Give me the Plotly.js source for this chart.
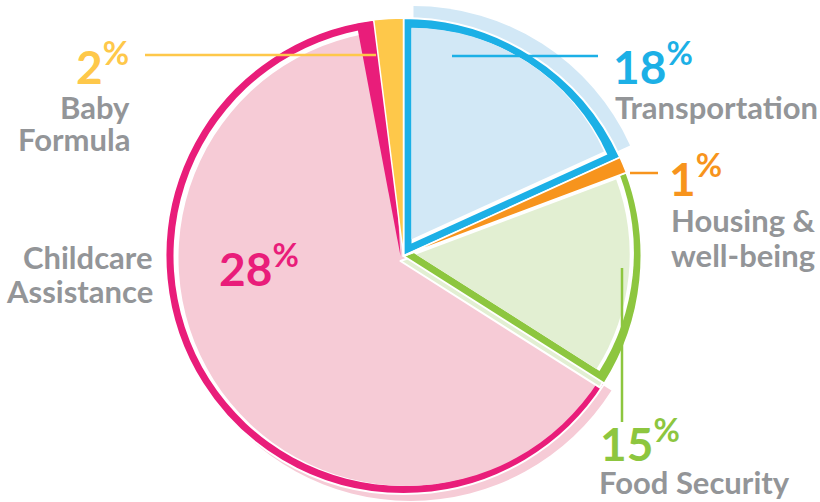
<!DOCTYPE html>
<html><head><meta charset="utf-8">
<script src="https://cdn.plot.ly/plotly-3.0.1.min.js"></script>
<style>
html,body{margin:0;padding:0;width:820px;height:502px;overflow:hidden;background:#fff;}
#chart{position:absolute;left:-40px;top:-40px;width:900px;height:582px;}
</style></head><body><div id="chart"></div>
<script>
// ---- data ----
const categories = ["Transportation", "Housing &<br>well-being", "Food Security", "Childcare<br>Assistance", "Baby<br>Formula"];
// angular share of each drawn slice (% of the full circle)
const sliceShares = [18.2, 1.1, 14.7, 64.0, 2.0];
// percentages printed on the chart
const pctValues = [18, 1, 15, 28, 2];

// ---- styles ----
const strong = ["#1cb0e6", "#f7941d", "#8dc63f", "#e91d7a", "#fec84a"];
const pale   = ["#d2e8f6", "#fde3c4", "#e2efd2", "#f6cbd6", "#fff0c8"];
const grey = "#939598";
const FONT = "Lato";

// ---- geometry (pixels of the page) ----
const PAD = 40, W = 900, H = 582;
const C = {x: 403.5, y: 256}, R = 238;

const total = sliceShares.reduce((a, b) => a + b, 0);
const startDeg = [], endDeg = [];
let acc = 0;
sliceShares.forEach(v => { startDeg.push(acc / total * 360); acc += v; endDeg.push(acc / total * 360); });

const px2x = px => (px + PAD) / W;
const py2y = py => 1 - (py + PAD) / H;
function domainFor(cx, cy, r) {
  return {x: [px2x(cx - r), px2x(cx + r)], y: [py2y(cy + r), py2y(cy - r)]};
}
// apex/radius of a wedge inset from slice i: o0 from start edge, o1 from end edge, arc inset
function inset(i, o0, o1, arcIn) {
  const a0 = startDeg[i] * Math.PI / 180, a1 = endDeg[i] * Math.PI / 180;
  const n0 = [Math.cos(a0), Math.sin(a0)];
  const n1 = [-Math.cos(a1), -Math.sin(a1)];
  const det = n0[0] * n1[1] - n0[1] * n1[0];
  const dx = (o0 * n1[1] - n0[1] * o1) / det;
  const dy = (n0[0] * o1 - o0 * n1[0]) / det;
  const mid = (a0 + a1) / 2;
  const proj = dx * Math.sin(mid) - dy * Math.cos(mid);
  return {cx: C.x + dx, cy: C.y + dy, r: R - arcIn - proj};
}
function sliceTrace(i, g, fill, lineColor, lineWidth, rot) {
  return {
    type: "pie", values: sliceShares, labels: categories, sort: false,
    direction: "clockwise", rotation: rot || 0, textinfo: "none", hoverinfo: "skip",
    showlegend: false,
    marker: {
      colors: sliceShares.map((v, k) => k === i ? fill : "rgba(0,0,0,0)"),
      line: {color: lineColor || "#ffffff", width: sliceShares.map((v, k) => k === i ? (lineWidth || 0) : 0)}
    },
    domain: domainFor(g.cx, g.cy, g.r)
  };
}
const base = {cx: C.x, cy: C.y, r: R};
const traces = [];
// childcare (3)
traces.push(sliceTrace(3, {cx: C.x + 7, cy: C.y + 7, r: R}, pale[3]));
traces.push(sliceTrace(3, base, strong[3], "#fff", 2));
traces.push(sliceTrace(3, {cx: C.x, cy: C.y, r: R - 8}, "#ffffff"));
traces.push(sliceTrace(3, {cx: C.x + 3, cy: C.y + 2, r: R - 10}, pale[3]));
// magenta edge strip beside the baby-formula slice
traces.push(sliceTrace(4, {cx: C.x - 3, cy: C.y, r: R - 2}, strong[3], "#fff", 0, -3.5));
// food (2)
traces.push(sliceTrace(2, {cx: C.x - 3, cy: C.y + 5, r: R - 2}, pale[2], "#fff", 2));
traces.push(sliceTrace(2, base, strong[2], "#fff", 2));
traces.push(sliceTrace(2, inset(2, 0, 8, 8), "#ffffff"));
traces.push(sliceTrace(2, inset(2, 3, 8, 12), pale[2]));
// transportation (0)
traces.push(sliceTrace(0, {cx: C.x + 10, cy: C.y - 12, r: R}, pale[0]));
traces.push(sliceTrace(0, base, strong[0], "#fff", 2));
traces.push(sliceTrace(0, inset(0, 8, 8, 8), "#ffffff"));
traces.push(sliceTrace(0, inset(0, 8, 12, 8), pale[0]));
// housing (1) and baby formula (4): solid
traces.push(sliceTrace(1, base, strong[1], "#fff", 1.5));
traces.push(sliceTrace(4, base, strong[4], "#fff", 1.5));

// ---- labels (style / placement) ----
const place = [
  {nx: 611, nb: 85,  lx: 613, lb: [120]},
  {nx: 667, nb: 197, lx: 669, lb: [233, 268]},
  {nx: 598, nb: 462, lx: 597, lb: [495]},
  {nx: 217, nb: 287, lx: 155, lb: [270, 304], labelAlign: "right"},
  {nx: 74,  nb: 85,  lx: 132, lb: [120, 152], labelAlign: "right"}
];
const NUM = 46, LAB = 31;
const annotations = [];
pctValues.forEach((p, i) => {
  const pl = place[i];
  annotations.push({
    xref: "paper", yref: "paper", x: px2x(pl.nx), y: py2y(pl.nb + 0.213 * NUM + 1),
    xanchor: "left", yanchor: "bottom", showarrow: false,
    text: p + "<sup>%</sup>",
    font: {family: FONT, size: NUM, color: strong[i], weight: 700}
  });
  const lines = categories[i].split("<br>");
  lines.forEach((t, j) => {
    annotations.push({
      xref: "paper", yref: "paper", x: px2x(pl.lx), y: py2y(pl.lb[j] + 0.213 * LAB + 1),
      xanchor: pl.labelAlign === "right" ? "right" : "left", yanchor: "bottom", showarrow: false,
      text: t, font: {family: FONT, size: LAB, color: grey, weight: 700}
    });
  });
});

// leader lines
const leaders = [
  {i: 0, x0: 452, y0: 56, x1: 598, y1: 56},
  {i: 1, x0: 630, y0: 173, x1: 658, y1: 173},
  {i: 2, x0: 622, y0: 268, x1: 622, y1: 422},
  {i: 4, x0: 145, y0: 55, x1: 376, y1: 55}
];
const shapes = leaders.map(l => ({
  type: "line", xref: "paper", yref: "paper", layer: "above",
  x0: px2x(l.x0), y0: py2y(l.y0), x1: px2x(l.x1), y1: py2y(l.y1),
  line: {color: strong[l.i], width: 2.5}
}));

Plotly.newPlot("chart", traces, {
  width: W, height: H, autosize: false,
  margin: {l: 0, r: 0, t: 0, b: 0},
  paper_bgcolor: "#ffffff", plot_bgcolor: "#ffffff",
  showlegend: false, annotations: annotations, shapes: shapes
}, {staticPlot: true, displayModeBar: false});
</script></body></html>
